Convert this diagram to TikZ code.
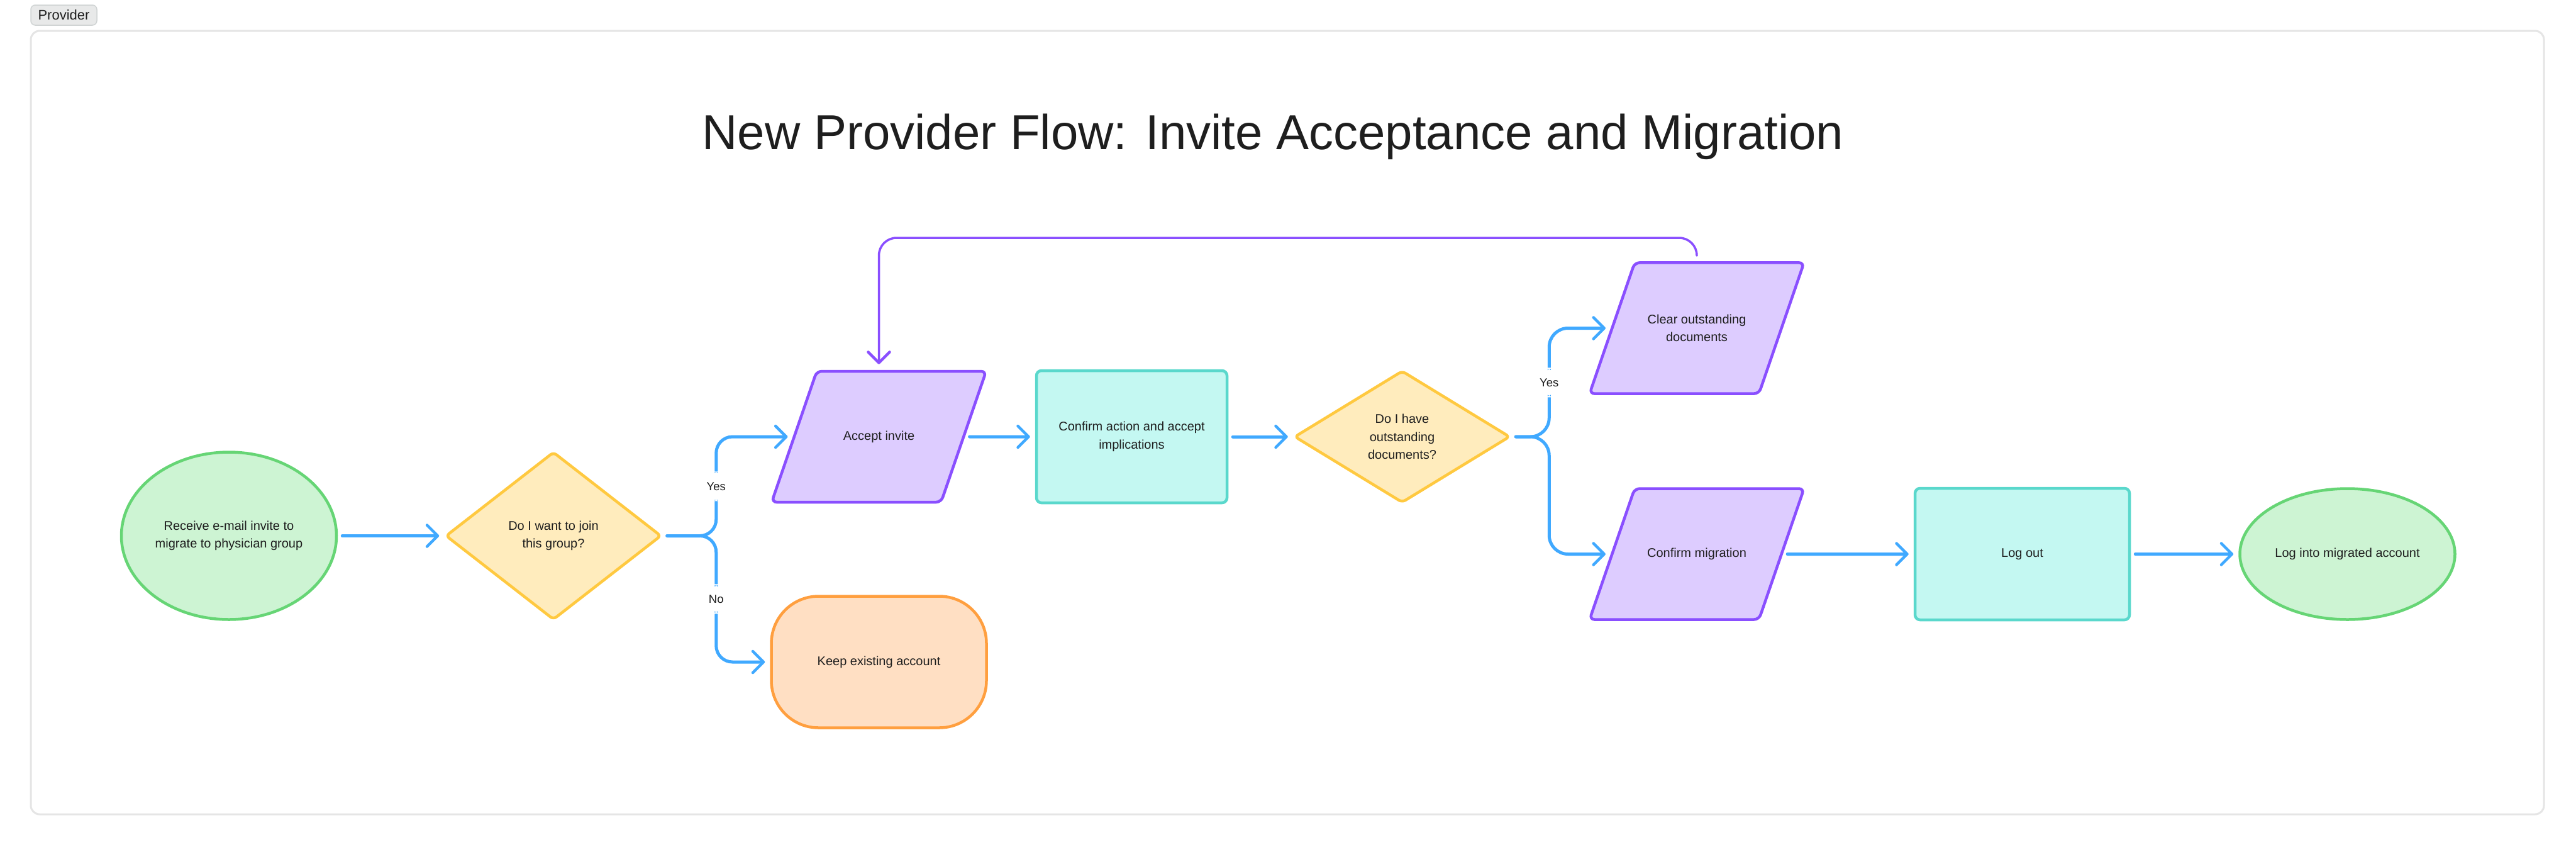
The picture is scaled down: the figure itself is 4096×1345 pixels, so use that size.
\documentclass[tikz,border=0pt]{standalone}
\usepackage{fontspec}
\setmainfont{Liberation Sans}
\usetikzlibrary{shapes.geometric, positioning, arrows.meta}
\definecolor{ink}{HTML}{1E1E1E}
\definecolor{termfill}{HTML}{CDF4D3}
\definecolor{termline}{HTML}{66D575}
\definecolor{askfill}{HTML}{FFECBD}
\definecolor{askline}{HTML}{FFC940}
\definecolor{iofill}{HTML}{DDCCFF}
\definecolor{ioline}{HTML}{8A4FFF}
\definecolor{procfill}{HTML}{C4F8F2}
\definecolor{procline}{HTML}{5AD8CC}
\definecolor{keepfill}{HTML}{FFDFC3}
\definecolor{keepline}{HTML}{FF9F3F}
\definecolor{flowblue}{HTML}{40A9FF}
\definecolor{framegray}{HTML}{E5E5E5}
\definecolor{tagfill}{HTML}{E8E9E9}
\definecolor{tagline}{HTML}{CFD3D3}
\tikzset{
    >={Straight Barb[length=17pt, width=34pt, line width=4.5pt, round]}, % open arrow heads
    every node/.style={font=\fontsize{20}{28.5}\selectfont, text=ink, align=center}, % text in every box
    terminal/.style={ellipse, draw=termline, fill=termfill, line width=4.5pt, minimum width=342pt, minimum height=266pt, inner sep=0pt}, % start and end
    decision/.style={diamond, draw=askline, fill=askfill, line width=4.5pt, minimum width=343pt, minimum height=267pt, inner sep=0pt, rounded corners=6pt}, % questions
    io/.style={trapezium, trapezium left angle=71, trapezium right angle=109, trapezium stretches body, draw=ioline, fill=iofill, line width=4.5pt, minimum width=341pt, inner xsep=0pt, inner ysep=95pt, rounded corners=8pt}, % user actions, height comes from inner ysep
    oneline/.style={text height=14pt, text depth=4pt}, % one line of text in a slanted box
    process/.style={rectangle, draw=procline, fill=procfill, line width=4.5pt, minimum width=303pt, minimum height=210pt, rounded corners=8pt}, % system steps
    outcome/.style={rectangle, draw=keepline, fill=keepfill, line width=4.5pt, minimum width=342pt, minimum height=209pt, rounded corners=75pt}, % leaving the flow
    flow/.style={->, draw=flowblue, line width=5pt, line cap=round, shorten <=7pt, shorten >=8pt}, % blue connectors
    back/.style={->, draw=ioline, line width=3.5pt, line cap=round, shorten <=9pt, shorten >=9pt}, % purple loop
    choice/.style={font=\fontsize{18.5}{22}\selectfont, fill=white, inner xsep=3pt, inner ysep=17pt, text height=13pt, text depth=0pt}, % Yes / No
    frame/.style={draw=framegray, line width=3pt, rounded corners=14pt}, % board outline
    tag/.style={draw=tagline, fill=tagfill, line width=1.5pt, rounded corners=7pt, minimum width=105pt, minimum height=32pt, inner sep=0pt, font=\fontsize{22}{26}\selectfont}, % lane tag
    heading/.style={font=\fontsize{78}{90}\selectfont, text=ink}, % title
}
\begin{document}
\begin{tikzpicture}[x=1pt, y=1pt]
    \useasboundingbox (0,0) rectangle (4096,-1345);
    \fill[white] (0,0) rectangle (4096,-1345);
    \draw[frame] (49,-49) rectangle (4045,-1294);
    \node[tag] (lane) at (101.5,-24) {Provider};
    \node[heading, anchor=base] (title) at (2024,-237) {New Provider Flow: Invite Acceptance and Migration};

    \node[terminal] (start) at (364,-851.5) {Receive e-mail invite to\\migrate to physician group};
    \node[decision, right of=start, node distance=516pt] (join) {Do I want to join\\this group?};
    \node[io, oneline] (accept) at (1397.5,-694) {Accept invite};
    \node[outcome, below of=accept, node distance=358pt] (keep) {Keep existing account};
    \node[process, right of=accept, node distance=402pt] (confirm) {Confirm action and accept\\implications};
    \node[decision, minimum height=210pt, right of=confirm, node distance=430pt] (docs) {Do I have\\outstanding\\documents?};
    \node[io, inner ysep=82.5pt] (clear) at (2698,-521.5) {Clear outstanding\\documents};
    \node[io, oneline, below of=clear, node distance=359pt] (migrate) {Confirm migration};
    \node[process, minimum width=341pt, minimum height=209pt, right of=migrate, node distance=517.5pt] (logout) {Log out};
    \node[terminal, minimum height=208pt, right of=logout, node distance=517pt] (finish) {Log into migrated account};

    \draw (start) edge[flow] (join)
          (accept) edge[flow] (confirm)
          (confirm) edge[flow] (docs)
          (migrate) edge[flow] (logout)
          (logout) edge[flow] (finish);
    \draw[flow, rounded corners=26pt] (join.east) -- ++(85,0) |- node[choice, pos=0.25] {Yes} (accept.west);
    \draw[flow, rounded corners=26pt] (join.east) -- ++(85,0) |- node[choice, pos=0.25] {No} (keep.west);
    \draw[flow, rounded corners=30pt] (docs.east) -- ++(60,0) |- node[choice, pos=0.25] {Yes} (clear.west);
    \draw[flow, rounded corners=30pt] (docs.east) -- ++(60,0) |- (migrate.west);
    \coordinate (looptop) at (0,-378);
    \draw[back, rounded corners=28pt] (clear.center |- clear.north) -- (clear.center |- looptop) -| (accept.center |- accept.north);
\end{tikzpicture}
\end{document}
